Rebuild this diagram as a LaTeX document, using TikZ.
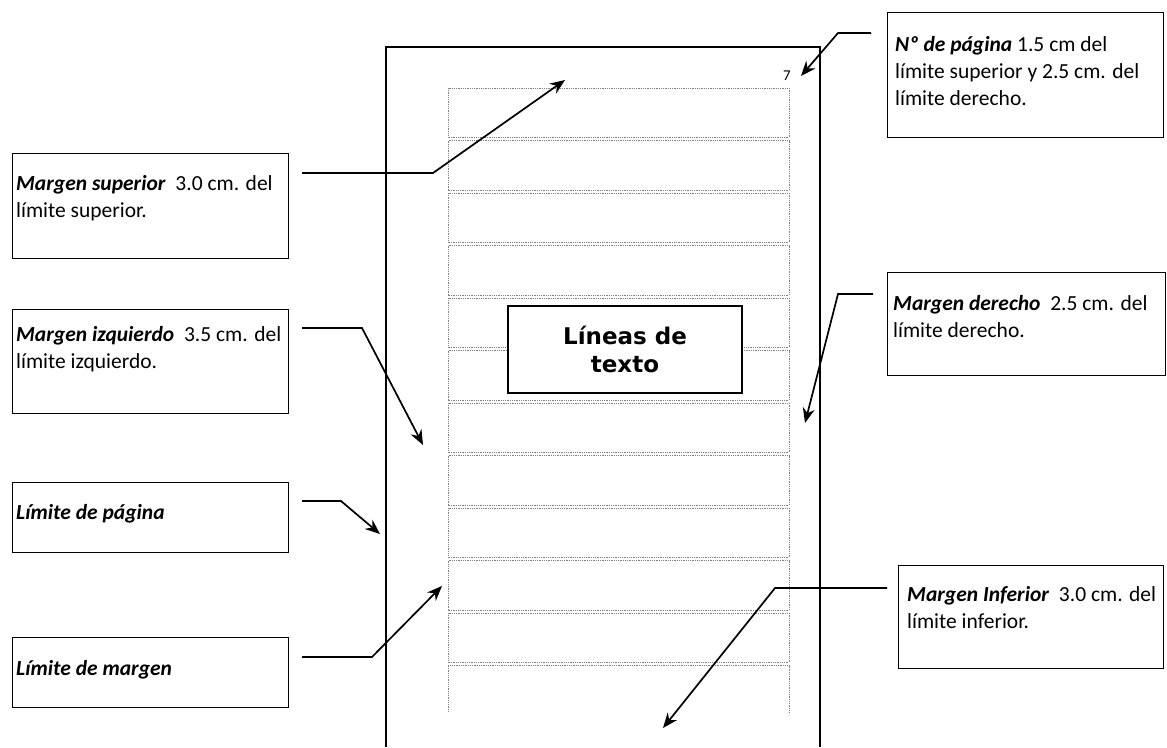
\documentclass[tikz,border=0pt]{standalone}
\usepackage{fontspec}
\setmainfont{Carlito}
\newfontfamily\boxfont{DejaVu Sans}
\usetikzlibrary{arrows.meta}
\begin{document}
\begin{tikzpicture}[x=1pt,y=-1pt,
  lbl/.style={draw, line width=1.3pt, inner sep=0pt, anchor=north west},
  txt/.style={anchor=base west, inner sep=0pt, align=left, font=\fontsize{21.5}{27}\selectfont},
  conn/.style={line width=1.7pt, line join=miter, -{Stealth[length=15pt,width=12pt,inset=5pt]}},
  dotrow/.style={draw=gray, line width=0.8pt, dash pattern=on 1pt off 0.8pt},
  pageline/.style={line width=1.8pt}]
\useasboundingbox (0,0) rectangle (1167,747);
% page
\coordinate (pbl) at (386,747);
\coordinate (ptl) at (386,47);
\coordinate (ptr) at (820,47);
\coordinate (pbr) at (820,747);
\draw[pageline] (pbl) -- (ptl) -- (ptr) -- (pbr);
% dotted text rows
\foreach \i in {0,...,10} {
  \draw[dotrow] (448,{88+52.5*\i}) rectangle (789,{88+52.5*\i+49.5});
}
\draw[dotrow] (448,712) -- (448,665.5) -- (789,665.5) -- (789,712);
% page number
\node[inner sep=0pt, font=\fontsize{15}{17}\selectfont] (num) at (787,76) {7};
% central box
\node[draw, fill=white, line width=1.5pt, minimum width=234pt, minimum height=87pt, inner sep=0pt,
      align=center, font=\boxfont\bfseries\fontsize{23}{28}\selectfont] (lin) at (625,349.5) {Líneas de\\texto};
% label boxes (text anchored at the baseline of its last line)
\node[lbl, minimum width=276pt, minimum height=125pt] (bpag) at (887,12) {};
\node[txt] (tpag) at (895,105) {\textbf{\textit{Nº de página}} 1.5 cm del\\límite superior y 2.5 cm. del\\límite derecho.};
\node[lbl, minimum width=276pt, minimum height=105pt] (bsup) at (12,153) {};
\node[txt] (tsup) at (16,217) {\textbf{\textit{Margen superior}}\ \ 3.0 cm. del\\límite superior.};
\node[lbl, minimum width=276pt, minimum height=104pt] (bizq) at (12,309) {};
\node[txt] (tizq) at (16,368) {\textbf{\textit{Margen izquierdo}}\ \ 3.5 cm. del\\límite izquierdo.};
\node[lbl, minimum width=276pt, minimum height=70pt] (blp) at (12,482) {};
\node[txt] (tlp) at (16,519) {\textbf{\textit{Límite de página}}};
\node[lbl, minimum width=276pt, minimum height=70pt] (blm) at (12,637) {};
\node[txt] (tlm) at (16,675) {\textbf{\textit{Límite de margen}}};
\node[lbl, minimum width=278pt, minimum height=103pt] (bder) at (887,272) {};
\node[txt] (tder) at (893,337) {\textbf{\textit{Margen derecho}}\ \ 2.5 cm. del\\límite derecho.};
\node[lbl, minimum width=265pt, minimum height=103pt] (binf) at (898,565) {};
\node[txt] (tinf) at (907,628) {\textbf{\textit{Margen Inferior}}\ \ 3.0 cm. del\\límite inferior.};
% connector points
\coordinate (spag) at (871,33);  \coordinate (kpag) at (838,33);  \coordinate (apag) at (801,76);
\coordinate (ssup) at (302,173); \coordinate (ksup) at (433,173); \coordinate (asup) at (565,80);
\coordinate (sizq) at (302,328); \coordinate (kizq) at (362,328); \coordinate (aizq) at (423,445);
\coordinate (slp) at (302,501);  \coordinate (klp) at (341,501);  \coordinate (alp) at (380,534);
\coordinate (slm) at (302,657);  \coordinate (klm) at (372,657);  \coordinate (alm) at (442,586);
\coordinate (sder) at (873,294); \coordinate (kder) at (838,294); \coordinate (ader) at (805,423);
\coordinate (sinf) at (887,588); \coordinate (kinf) at (775,588); \coordinate (ainf) at (663,728);
\draw[conn] (spag) -- (kpag) -- (apag);
\draw[conn] (ssup) -- (ksup) -- (asup);
\draw[conn] (sizq) -- (kizq) -- (aizq);
\draw[conn] (slp) -- (klp) -- (alp);
\draw[conn] (slm) -- (klm) -- (alm);
\draw[conn] (sder) -- (kder) -- (ader);
\draw[conn] (sinf) -- (kinf) -- (ainf);
\end{tikzpicture}
\end{document}
